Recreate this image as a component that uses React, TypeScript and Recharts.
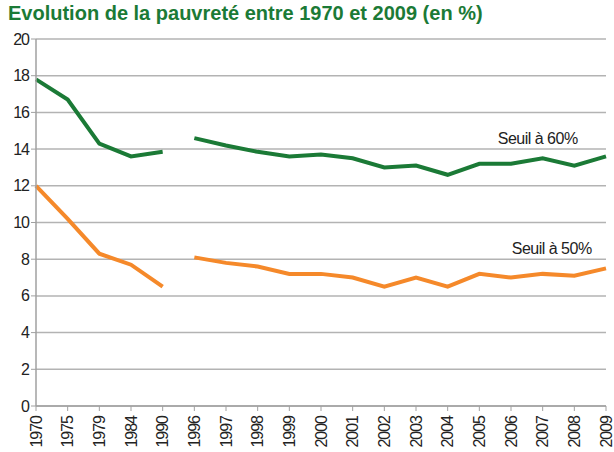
import React from 'react';
import { LineChart, Line, XAxis, YAxis, CartesianGrid, ReferenceDot } from 'recharts';

const years = ['1970', '1975', '1979', '1984', '1990', '1996', '1997', '1998', '1999', '2000', '2001', '2002', '2003', '2004', '2005', '2006', '2007', '2008', '2009'];
const seuil60 = [17.8, 16.7, 14.3, 13.6, 13.85, 14.6, 14.2, 13.85, 13.6, 13.7, 13.5, 13.0, 13.1, 12.6, 13.2, 13.2, 13.5, 13.1, 13.6];
const seuil50 = [12.0, 10.2, 8.3, 7.7, 6.5, 8.1, 7.8, 7.6, 7.2, 7.2, 7.0, 6.5, 7.0, 6.5, 7.2, 7.0, 7.2, 7.1, 7.5];
const breakAfter = '1990';
const yTicks = [0, 2, 4, 6, 8, 10, 12, 14, 16, 18, 20];

const breakIdx = years.indexOf(breakAfter);
const data = years.map((y, i) => ({
  year: y,
  a60: i <= breakIdx ? seuil60[i] : null,
  b60: i > breakIdx ? seuil60[i] : null,
  a50: i <= breakIdx ? seuil50[i] : null,
  b50: i > breakIdx ? seuil50[i] : null,
}));

const GREEN = '#1b7a36';
const ORANGE = '#f5892a';
const FONT = '"Liberation Sans", Arial, sans-serif';

const XTick = (props: any) => {
  const { x, y, payload } = props;
  return (
    <text x={x} y={y + 3} transform={`rotate(-90 ${x} ${y + 3})`} textAnchor="end" dominantBaseline="central" fontFamily={FONT} fontSize={16} fill="#222" style={{ letterSpacing: '-1px' }}>
      {payload.value}
    </text>
  );
};

const YTick = (props: any) => {
  const { x, y, payload } = props;
  return (
    <text x={x} y={y} textAnchor="end" dominantBaseline="central" fontFamily={FONT} fontSize={16} fill="#222" style={{ letterSpacing: '-1px' }}>
      {payload.value}
    </text>
  );
};

export default function App() {
  return (
    <div style={{ position: 'absolute', left: 0, top: 0, width: 614, height: 452, background: '#fff' }}>
      <div style={{ position: 'absolute', left: 8, top: 2, fontFamily: FONT, fontWeight: 'bold', fontSize: 20, color: GREEN, whiteSpace: 'nowrap' }}>
        Evolution de la pauvreté entre 1970 et 2009 (en %)
      </div>
      <LineChart width={614} height={452} data={data} margin={{ top: 39, right: 8, bottom: 0, left: 0 }}>
        <CartesianGrid vertical={false} stroke="#b3b3b3" strokeWidth={1.5} />
        <XAxis dataKey="year" interval={0} height={46} tick={<XTick />} tickLine={{ stroke: '#a0a0a0' }} axisLine={{ stroke: '#a0a0a0', strokeWidth: 1.5 }} tickSize={5} padding={{ left: 0, right: 0 }} />
        <YAxis domain={[0, 20]} ticks={yTicks} interval={0} width={36} tick={<YTick />} tickLine={{ stroke: '#a0a0a0' }} axisLine={{ stroke: '#a0a0a0', strokeWidth: 1.5 }} tickSize={5} />
        <Line dataKey="a60" stroke={GREEN} strokeWidth={4} dot={false} isAnimationActive={false} connectNulls={false} />
        <Line dataKey="b60" stroke={GREEN} strokeWidth={4} dot={false} isAnimationActive={false} connectNulls={false} />
        <Line dataKey="a50" stroke={ORANGE} strokeWidth={4} dot={false} isAnimationActive={false} connectNulls={false} />
        <Line dataKey="b50" stroke={ORANGE} strokeWidth={4} dot={false} isAnimationActive={false} connectNulls={false} />
        <ReferenceDot x="2007" y={14.6} r={0} stroke="none" fill="none" label={{ value: 'Seuil à 60%', position: 'center', dx: -5, fontFamily: FONT, fontSize: 16, fill: '#222', style: { letterSpacing: '-0.5px' } }} />
        <ReferenceDot x="2007" y={8.6} r={0} stroke="none" fill="none" label={{ value: 'Seuil à 50%', position: 'center', dx: 9, fontFamily: FONT, fontSize: 16, fill: '#222', style: { letterSpacing: '-0.5px' } }} />
      </LineChart>
    </div>
  );
}
